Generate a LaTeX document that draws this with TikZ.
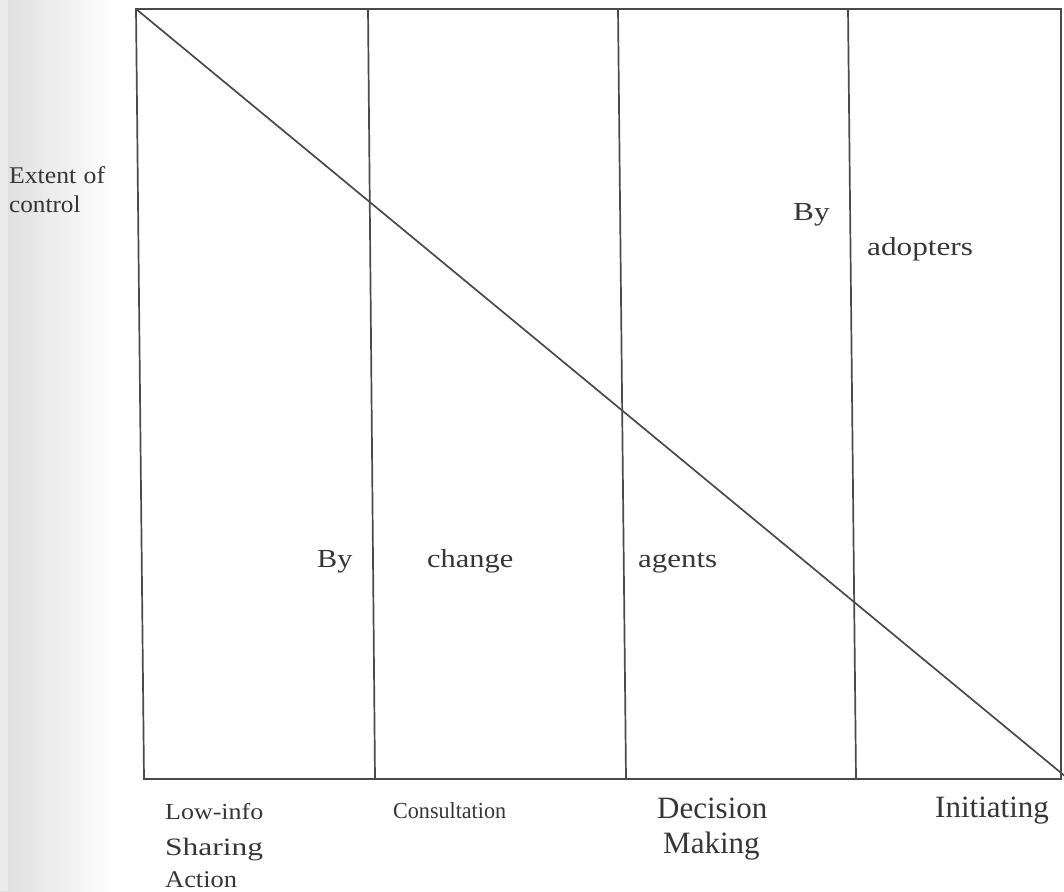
\documentclass[tikz,border=0pt]{standalone}
\usepackage{fontspec}
\setmainfont{Liberation Serif}
\usepackage{graphicx}
\definecolor{ink}{HTML}{363636}
\definecolor{rulegray}{HTML}{4A4A4A}
\newcommand{\wtext}[3]{\scalebox{#2}[1]{\fontsize{#1}{#1}\selectfont #3}}
\tikzset{
  frameline/.style={draw=rulegray, line width=1.7pt},
  lbl/.style={anchor=base west, inner sep=0pt, text=ink},
}
\begin{document}
\begin{tikzpicture}[x=1pt, y=-1pt]
  \useasboundingbox (0,0) rectangle (1064,891);
  \clip (0,0) rectangle (1064,891);
  % paper tone along the left margin
  \shade[left color=black!13, right color=white] (0,0) rectangle (115,891);
  \fill[black!8] (0,0) rectangle (8,891);

  % corners of the chart frame
  \coordinate (tl) at (136,9);
  \coordinate (tr) at (1061,9);
  \coordinate (br) at (1061,779);
  \coordinate (bl) at (144,779);
  % column dividers
  \coordinate (s1t) at (368,9);  \coordinate (s1b) at (375,779);
  \coordinate (s2t) at (618,9);  \coordinate (s2b) at (626,779);
  \coordinate (s3t) at (848,9);  \coordinate (s3b) at (856,779);
  % far end of the control line
  \coordinate (dend) at (1066,777);

  \draw[frameline] (tl) -- (tr) -- (br) -- (bl) -- cycle;
  \draw[frameline] (s1t) -- (s1b);
  \draw[frameline] (s2t) -- (s2b);
  \draw[frameline] (s3t) -- (s3b);
  \draw[frameline] (tl) -- (dend);

  % axis caption
  \node[lbl] (ext1) at (9,183) {\wtext{24}{1.07}{Extent\hspace{7pt}of}};
  \node[lbl] (ext2) at (9,212) {\wtext{24}{1.05}{control}};

  % labels inside the chart
  \node[lbl] (by1) at (317,567) {\wtext{26}{1.16}{By}};
  \node[lbl] (chg) at (427,567) {\wtext{26}{1.17}{change}};
  \node[lbl] (agt) at (638,567) {\wtext{26}{1.19}{agents}};
  \node[lbl] (by2) at (793,220) {\wtext{26}{1.2}{By}};
  \node[lbl] (adp) at (867,255) {\wtext{26}{1.2}{adopters}};

  % stage names under the chart
  \node[lbl] (low) at (165,819) {\wtext{23}{1.13}{Low-info}};
  \node[lbl] (shr) at (165,855) {\wtext{25}{1.26}{Sharing}};
  \node[lbl] (act) at (165,887) {\wtext{24}{1.1}{Action}};
  \node[lbl] (cons) at (393,818) {\wtext{23}{0.96}{Consultation}};
  \node[lbl] (dec) at (657,818) {\wtext{31}{1.0}{Decision}};
  \node[lbl] (mak) at (663,853) {\wtext{31}{1.0}{Making}};
  \node[lbl] (ini) at (935,817) {\wtext{31}{1.0}{Initiating}};
\end{tikzpicture}
\end{document}
